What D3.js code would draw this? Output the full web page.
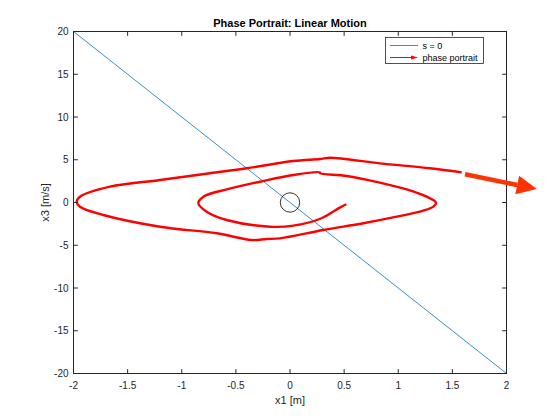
<!DOCTYPE html>
<html>
<head>
<meta charset="utf-8">
<script src="https://cdn.jsdelivr.net/npm/d3@7"></script>
<style>
  body { margin: 0; background: #fff; }
  text { font-family: "Liberation Sans", Arial, sans-serif; }
</style>
</head>
<body>
<script>
// phase portrait trajectory (x1 [m], x3 [m/s])
const trajX1 = [0.52, 0.46, 0.28, 0.03, -0.185, -0.585, -0.77, -0.847, -0.80, -0.585, -0.277, 0.03, 0.277,
    0.277, 0.524, 0.831, 1.078, 1.263, 1.349, 1.324, 1.231, 0.986, 0.677, 0.308, -0.092, -0.215, -0.354,
    -0.677, -1.20, -1.725, -1.94, -1.97, -1.94, -1.663, -1.20, -0.739, -0.40, 0.03, 0.277,
    0.37, 0.831, 1.293, 1.586];
const trajX3 = [-0.2, -0.6, -1.9, -2.71, -2.83, -2.05, -1.08, -0.09, 0.68, 1.54, 2.43, 3.22, 3.53,
    3.42, 3.10, 2.32, 1.54, 0.68, -0.02, -0.49, -0.96, -1.66, -2.43, -3.22, -4.19, -4.27, -4.39,
    -3.60, -2.83, -1.46, -0.49, 0.09, 0.68, 1.85, 2.63, 3.42, 4.0, 4.85, 5.09,
    5.24, 4.58, 4.0, 3.53];

// switching line s = 0
const sLineX1 = [-2, 2];
const sLineX3 = [20, -20];

// big annotation arrow (start, tip)
const arrowX1 = [1.617, 2.28];
const arrowX3 = [3.3, 1.58];

const xTicks = [-2, -1.5, -1, -0.5, 0, 0.5, 1, 1.5, 2];
const yTicks = [-20, -15, -10, -5, 0, 5, 10, 15, 20];
const legendLabels = ["s = 0", "phase portrait"];

const width = 560, height = 420;
const pLeft = 73.5, pRight = 506.5, pTop = 31.5, pBottom = 373.5;

const x = d3.scaleLinear().domain([-2, 2]).range([pLeft, pRight]);
const y = d3.scaleLinear().domain([-20, 20]).range([pBottom, pTop]);

const svg = d3.select("body").append("svg")
    .attr("width", width)
    .attr("height", height);

svg.append("defs").append("clipPath").attr("id", "clip")
    .append("rect")
    .attr("x", pLeft).attr("y", pTop)
    .attr("width", pRight - pLeft).attr("height", pBottom - pTop);

const plot = svg.append("g").attr("clip-path", "url(#clip)");

const line = d3.line()
    .x(function(d) { return x(d[0]); })
    .y(function(d) { return y(d[1]); });

plot.append("path")
    .datum(sLineX1.map(function(v, i) { return [v, sLineX3[i]]; }))
    .attr("d", line)
    .attr("fill", "none")
    .attr("stroke", "#0072BD")
    .attr("stroke-width", 0.8);

const traj = trajX1.map(function(v, i) { return [v, trajX3[i]]; });
plot.append("path")
    .datum(traj)
    .attr("d", line.curve(d3.curveCatmullRom))
    .attr("fill", "none")
    .attr("stroke", "#ff0000")
    .attr("stroke-width", 2.4)
    .attr("stroke-linejoin", "round");

// origin marker
plot.append("circle")
    .attr("cx", x(0)).attr("cy", y(0))
    .attr("r", 9.7)
    .attr("fill", "none")
    .attr("stroke", "#000")
    .attr("stroke-width", 0.8);

// axes box with inward ticks
const axes = svg.append("g");
axes.append("rect")
    .attr("x", pLeft).attr("y", pTop)
    .attr("width", pRight - pLeft).attr("height", pBottom - pTop)
    .attr("fill", "none").attr("stroke", "#262626").attr("stroke-width", 1);

const tk = 4.3;
xTicks.forEach(function(t) {
    axes.append("line").attr("x1", x(t)).attr("x2", x(t)).attr("y1", pBottom).attr("y2", pBottom - tk)
        .attr("stroke", "#262626");
    axes.append("line").attr("x1", x(t)).attr("x2", x(t)).attr("y1", pTop).attr("y2", pTop + tk)
        .attr("stroke", "#262626");
    axes.append("text").attr("x", x(t)).attr("y", pBottom + 15)
        .attr("text-anchor", "middle").attr("font-size", 10).attr("fill", "#262626")
        .text(t);
});
yTicks.forEach(function(t) {
    axes.append("line").attr("x1", pLeft).attr("x2", pLeft + tk).attr("y1", y(t)).attr("y2", y(t))
        .attr("stroke", "#262626");
    axes.append("line").attr("x1", pRight).attr("x2", pRight - tk).attr("y1", y(t)).attr("y2", y(t))
        .attr("stroke", "#262626");
    axes.append("text").attr("x", pLeft - 5).attr("y", y(t) + 3.5)
        .attr("text-anchor", "end").attr("font-size", 10).attr("fill", "#262626")
        .text(t);
});

svg.append("text").attr("x", (pLeft + pRight) / 2).attr("y", 404)
    .attr("text-anchor", "middle").attr("font-size", 11).attr("fill", "#262626")
    .text("x1 [m]");
svg.append("text")
    .attr("transform", "translate(49," + ((pTop + pBottom) / 2) + ") rotate(-90)")
    .attr("text-anchor", "middle").attr("font-size", 11).attr("fill", "#262626")
    .text("x3 [m/s]");
svg.append("text").attr("x", (pLeft + pRight) / 2).attr("y", 27)
    .attr("text-anchor", "middle").attr("font-size", 11).attr("font-weight", "bold")
    .attr("fill", "#000")
    .text("Phase Portrait: Linear Motion");

// legend
const lg = svg.append("g");
lg.append("rect").attr("x", 385.5).attr("y", 37.5).attr("width", 98).attr("height", 26)
    .attr("fill", "#fff").attr("stroke", "#262626").attr("stroke-width", 0.8);
lg.append("line").attr("x1", 390).attr("x2", 418).attr("y1", 45.5).attr("y2", 45.5)
    .attr("stroke", "#0072BD").attr("stroke-width", 0.8);
lg.append("line").attr("x1", 390).attr("x2", 414).attr("y1", 57.5).attr("y2", 57.5)
    .attr("stroke", "#ff0000").attr("stroke-width", 1);
lg.append("path").attr("d", "M411,55.5L418,57.5L411,59.5Z").attr("fill", "#ff0000");
lg.selectAll("text.lab").data(legendLabels).enter().append("text")
    .attr("x", 422.5).attr("y", function(d, i) { return 48.5 + i * 12; })
    .attr("font-size", 9).attr("fill", "#000")
    .text(function(d) { return d; });

// big arrow annotation
const ax0 = x(arrowX1[0]), ay0 = y(arrowX3[0]), ax1 = x(arrowX1[1]), ay1 = y(arrowX3[1]);
const ang = Math.atan2(ay1 - ay0, ax1 - ax0);
const hl = 20, hw = 9.5;
const bx = ax1 - hl * Math.cos(ang), by = ay1 - hl * Math.sin(ang);
svg.append("line").attr("x1", ax0).attr("y1", ay0).attr("x2", bx).attr("y2", by)
    .attr("stroke", "#ff3300").attr("stroke-width", 4.5);
svg.append("path")
    .attr("d", "M" + ax1 + "," + ay1 +
        "L" + (bx - hw * Math.sin(ang)) + "," + (by + hw * Math.cos(ang)) +
        "L" + (bx + hw * Math.sin(ang)) + "," + (by - hw * Math.cos(ang)) + "Z")
    .attr("fill", "#ff3300");
</script>
</body>
</html>
